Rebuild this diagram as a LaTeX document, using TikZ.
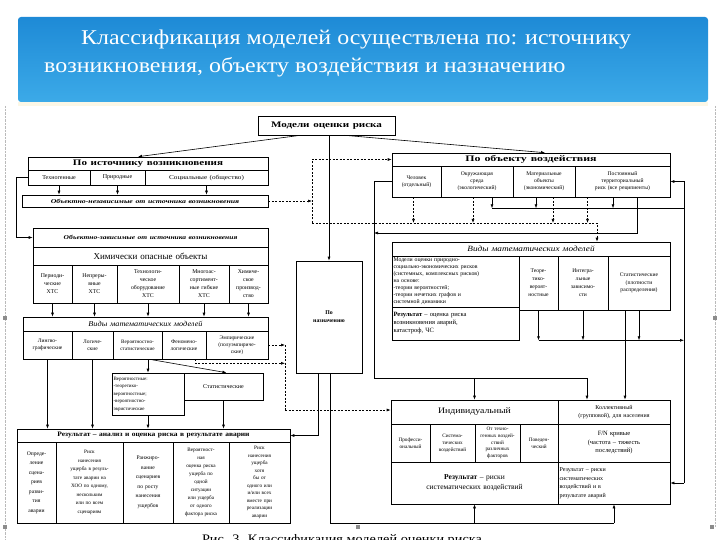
\documentclass[tikz,border=0pt]{standalone}
\usepackage{fontspec}
\setmainfont{Liberation Serif}
\usepackage{graphicx}
\usetikzlibrary{arrows.meta, calc}

\definecolor{bannertop}{HTML}{1E8AD6}
\definecolor{bannerbot}{HTML}{3CAAE8}
\definecolor{cream}{HTML}{FCF7E6}
\definecolor{handle}{HTML}{8C8C8C}

\tikzset{
  cell/.style={draw, line width=0.6pt, inner sep=0.5pt, align=center, font=\fontsize{5}{6}\selectfont},
  hdr/.style={font=\bfseries\fontsize{8.5}{9}\selectfont},
  arr/.style={-{Latex[length=4pt,width=3pt]}, line width=0.6pt},
  darr/.style={arr, dash pattern=on 2pt off 1.5pt},
  ln/.style={line width=0.6pt},
  dln/.style={line width=0.6pt, dash pattern=on 2pt off 1.5pt},
}

% a box from (x1,y1) to (x2,y2), named, with its text
\newcommand{\Cell}[7][]{%
  \pgfmathsetmacro{\cx}{(#3+#5)/2}%
  \pgfmathsetmacro{\cy}{(#4+#6)/2}%
  \pgfmathsetmacro{\cw}{#5-#3}%
  \pgfmathsetmacro{\ch}{#6-#4}%
  \pgfmathsetmacro{\tw}{#5-#3-3}%
  \node[cell, minimum width=\cw pt, minimum height=\ch pt, text width=\tw pt, #1] (#2) at (\cx,\cy) {#7};%
}
\newcommand{\fs}[2]{\fontsize{#1}{#2}\selectfont}
\newcommand{\wide}[2]{\scalebox{#1}[1]{#2}}

\begin{document}
\begin{tikzpicture}[x=1pt, y=-1pt]
  \useasboundingbox (0,0) rectangle (720,540);

  % slide frame
  \shade[top color=bannertop, bottom color=bannerbot, rounded corners=3pt] (18,17) rectangle (708,102);
  \fill[cream] (18,102) rectangle (708,106);
  \node[anchor=base west, text=white, font=\fs{21}{25}, inner sep=0] (title1) at (81,45)
    {\wide{1.14}{Классификация моделей осуществлена по: источнику}};
  \node[anchor=base west, text=white, font=\fs{21}{25}, inner sep=0] (title2) at (44,73)
    {\wide{1.14}{возникновения, объекту воздействия и назначению}};
  \draw[handle!60, densely dotted] (5,106) -- (5,540);
  \draw[handle!60, densely dotted] (715,106) -- (715,527);
  \foreach \hx/\hy in {5/318, 715/318, 5/527, 358/527, 712/527}
    \fill[handle] (\hx-2,\hy-2) rectangle (\hx+2,\hy+2);

  % root
  \Cell[font=\bfseries\fs{8.5}{10}]{models}{258}{116}{395}{135}{\wide{1.3}{Модели оценки риска}}

  % by source
  \Cell[hdr]{srchead}{28}{157}{268}{170}{\wide{1.3}{По источнику возникновения}}
  \Cell[font=\fs{6}{6.5}]{src1}{28}{170}{90}{185}{Техногенные}
  \Cell[font=\fs{6}{6.5}]{src2}{90}{170}{145}{185}{Природные}
  \Cell[font=\fs{6}{6.5}]{src3}{145}{170}{268}{185}{\wide{1.2}{Социальные (общество)}}
  \Cell[font=\bfseries\itshape\fs{6}{6.5}]{indep}{22}{195}{268}{207}{\wide{1.3}{Объектно-независимые от источника возникновения}}
  \Cell[font=\bfseries\itshape\fs{6}{6.5}]{dephead}{33}{228}{268}{247}{\wide{1.25}{Объектно-зависимые от источника возникновения}}
  \Cell[font=\fs{9}{10}]{chem}{33}{247}{268}{265}{Химически опасные объекты}
  \Cell[font=\fs{5.8}{8}]{d1}{33}{265}{72}{303}{Периоди-\\ческие\\ХТС}
  \Cell[font=\fs{5.8}{8}]{d2}{72}{265}{117}{303}{Непреры-\\вные\\ХТС}
  \Cell[font=\fs{5.8}{8}]{d3}{117}{265}{179}{303}{Технологи-\\ческое\\оборудование\\ХТС}
  \Cell[font=\fs{5.8}{8}]{d4}{179}{265}{229}{303}{Многоас-\\сортимент-\\ные гибкие\\ХТС}
  \Cell[font=\fs{5.8}{8}]{d5}{229}{265}{268}{303}{Химиче-\\ское\\производ-\\ство}

  \Cell[font=\itshape\fs{7.5}{8}]{mathL}{23}{317}{268}{331}{\wide{1.1}{Виды математических моделей}}
  \Cell[font=\fs{5.5}{6.8}]{e1}{23}{331}{72}{359}{Лингво-\\графические}
  \Cell[font=\fs{5.5}{6.8}]{e2}{72}{331}{113}{359}{Логиче-\\ские}
  \Cell[font=\fs{5.2}{6.8}]{e3}{113}{331}{162}{359}{Вероятностно-\\статистические}
  \Cell[font=\fs{5.5}{6.8}]{e4}{162}{331}{206}{359}{Феномено-\\логические}
  \Cell[font=\fs{5.5}{6.8}]{e5}{206}{331}{268}{359}{Эмпирические\\(полуэмпириче-\\ские)}
  \Cell[font=\fs{5}{7.5}, align=left]{prob}{112}{373}{184}{415}{Вероятностные:\\-теоретико-\\вероятностные;\\-вероятностно-\\эвристические}
  \Cell[font=\fs{6}{6.5}]{stat}{184}{373}{263}{400}{Статистические}

  \Cell[font=\bfseries\fs{6.8}{7}]{reshead}{17}{429}{290}{442}{\wide{1.1}{Результат – анализ и оценка риска в результате аварии}}
  \Cell[font=\fs{5.6}{9.5}]{g1}{17}{442}{56}{523}{Опреде-\\ление\\сцена-\\риев\\разви-\\тия\\аварии}
  \Cell[font=\fs{5.2}{8.5}]{g2}{56}{442}{123}{523}{Риск\\нанесения\\ущерба в резуль-\\тате аварии на\\ХОО по одному,\\нескольким\\или по всем\\сценариям}
  \Cell[font=\fs{5.6}{9.5}]{g3}{123}{442}{173}{523}{Ранжиро-\\вание\\сценариев\\по росту\\нанесения\\ущербов}
  \Cell[font=\fs{5.2}{8}]{g4}{173}{442}{229}{523}{Вероятност-\\ная\\оценка риска\\ущерба по\\одной\\ситуации\\или ущерба\\от одного\\фактора риска}
  \Cell[font=\fs{5.2}{7.5}]{g5}{229}{442}{290}{523}{Риск\\нанесения\\ущерба\\хотя\\бы от\\одного или\\и/или всех\\вместе при\\реализации\\аварии}

  % by purpose
  \Cell[font=\bfseries\fs{5.8}{8}]{purpose}{296}{261}{362}{373}{По\\назначению}

  % by object
  \Cell[hdr]{objhead}{392}{153}{670}{166}{\wide{1.4}{По объекту воздействия}}
  \Cell[font=\fs{5.6}{7}]{i1}{392}{166}{441}{197}{Человек\\(отдельный)}
  \Cell[font=\fs{5.6}{7}]{i2}{441}{166}{513}{197}{Окружающая\\среда\\(экологический)}
  \Cell[font=\fs{5.6}{7}]{i3}{513}{166}{575}{197}{Материальные\\объекты\\(экономический)}
  \Cell[font=\fs{5.6}{7}]{i4}{575}{166}{670}{197}{Постоянный\\территориальный\\риск (все реципиенты)}

  \Cell[font=\itshape\fs{8}{9}]{kindhead}{392}{242}{670}{256}{\wide{1.15}{Виды математических моделей}}
  \Cell[font=\fs{5.8}{7}, align=left]{k1}{392}{256}{519}{307}{Модели оценки природно-\\социально-экономических рисков\\(системных, комплексных рисков)\\на основе:\\-теории вероятностей;\\-теории нечетких графов и\\системной динамики}
  \Cell[font=\fs{6.5}{8}, align=left]{kres}{392}{307}{519}{340}{\textbf{Результат} – оценка риска\\возникновения аварий,\\катастроф, ЧС}
  \Cell[font=\fs{5.6}{8}]{k2}{519}{256}{558}{310}{Теоре-\\тико-\\вероят-\\ностные}
  \Cell[font=\fs{5.6}{8}]{k3}{558}{256}{608}{310}{Интегра-\\льные\\зависимо-\\сти}
  \Cell[font=\fs{5.6}{7.5}]{k4}{608}{256}{670}{310}{Статистические\\(плотности\\распределения)}

  \Cell[font=\fs{8.5}{9}]{indiv}{391}{400}{558}{424}{\wide{1.15}{Индивидуальный}}
  \Cell[font=\fs{5.2}{6.8}]{l1}{391}{424}{430}{462}{Професси-\\ональный}
  \Cell[font=\fs{5.2}{6.8}]{l2}{430}{424}{475}{462}{Система-\\тических\\воздействий}
  \Cell[font=\fs{5.2}{6.8}]{l3}{475}{424}{520}{462}{От техно-\\генных воздей-\\ствий\\различных\\факторов}
  \Cell[font=\fs{5.2}{6.8}]{l4}{520}{424}{558}{462}{Поведен-\\ческий}
  \Cell[font=\fs{7.5}{10}]{lres}{391}{462}{558}{504}{\textbf{Результат} – риски\\систематических воздействий}
  \Cell[font=\fs{6}{7.5}]{coll}{558}{400}{670}{424}{Коллективный\\(групповой), для населения}
  \Cell[font=\fs{6.5}{8.5}]{fn}{558}{424}{670}{462}{F/N кривые\\(частота – тяжесть\\последствий)}
  \Cell[font=\fs{6}{8.5}, align=left]{cres}{558}{462}{670}{504}{Результат – риски\\систематических\\воздействий и в\\результате аварий}

  % lanes
  \coordinate (dtop) at (312,223);
  \coordinate (dlane) at (285,410);
  \coordinate (lframe) at (374,378);
  \coordinate (rframe) at (684,481);
  \coordinate (blane) at (330,523);

  % root branches
  \draw[arr] ($(models.south)+(-26,0)$) -- ($(srchead.north)+(-10,0)$);
  \draw[arr] ($(models.south)+(18,0)$) -- ($(objhead.north)+(14,0)$);
  \draw[arr] (models.south -| purpose.north) -- (purpose.north);

  % left column
  \foreach \n in {src1,src2,src3}
    \draw[arr] (\n.south) -- (\n.south |- indep.north);
  \draw[arr] (src1.west) -- ++(-11,0) |- (dephead.west);
  \foreach \n in {d1,d2,d3,d4,d5}
    \draw[arr] (\n.south) -- (\n.south |- mathL.north);
  \draw[arr] (e1.south) -- (e1.south |- reshead.north);
  \draw[arr] (e2.south) -- (e2.south |- reshead.north);
  \draw[arr] (prob.north |- e3.south) -- (prob.north);
  \draw[arr] ($(e3.south)+(12,0)$) -- ($(stat.north)+(3,0)$);
  \draw[arr] (prob.south) -- (prob.south |- reshead.north);
  \draw[arr] (stat.south) -- (stat.south |- reshead.north);

  % dashed links
  \draw[darr] (indep.east) -- (indep.east -| dtop);
  \draw[darr] (dtop) |- (objhead.west);
  \draw[darr] (dtop) -| ($(kindhead.north)+(66,0)$);
  \foreach \n/\d in {i1/-3, i2/-4, i3/9, i4/-35}
    \draw[darr] ($(\n.south)+(\d,0)$) -- ($(\n.south |- dtop)+(\d,0)$);
  \draw[darr] (e5.east) -- (e5.east -| dlane);
  \draw[darr] ($(e4.south east)+(-11,0)$) |- ($(e5.south -| dlane)+(0,4)$);
  \draw[dln] (e5.east -| dlane) -- (dlane);
  \draw[darr] (dlane) -- (dlane -| indiv.west);

  % purpose outputs
  \draw[arr] ($(purpose.south)+(-11,0)$) |- (reshead.east);
  \draw[ln] ($(purpose.south)+(1,0)$) -- (blane) -- (blane -| cres.south);
  \draw[arr] (blane -| lres.south) -- (lres.south);
  \draw[arr] (blane -| cres.south) -- (cres.south);

  % right column
  \draw[arr] (i1.west) -| (lframe) -| ($(coll.north)+(-27,0)$);
  \draw[arr] (lframe -| indiv.north) -- (indiv.north);
  \draw[arr] ($(i4.south)+(14.5,0)$) |- ($(lframe)+(0,-145)$);
  \draw[ln] (rframe |- i4.east) -- (rframe |- cres.east);
  \draw[arr] (rframe |- i4.east) -- (i4.east);
  \draw[arr] (rframe |- cres.east) -- (cres.east);
  \draw[ln] ($(i2.south)+(15,11)$) -- ($(rframe |- i2.south)+(0,11)$);
  \foreach \n/\d in {i2/15, i3/-8, i4/-9.5}
    \draw[arr] ($(\n.south)+(\d,0)$) -- ++(0,11);
  \foreach \n in {k2,k3,k4}
    \draw[arr] (\n.south) -- (\n.south |- kres.south);
  \draw[arr] (k2.south |- kres.south) -- (rframe |- kres.south);
  \draw[arr] ($(k4.south)+(-14,0)$) -- ($(coll.north)+(11,0)$);

  % caption, cut by the page edge
  \node[anchor=north, font=\fs{13}{15}, inner sep=0] (caption) at (342,534) {\wide{1.1}{Рис. 3. Классификация моделей оценки риска}};
\end{tikzpicture}
\end{document}
